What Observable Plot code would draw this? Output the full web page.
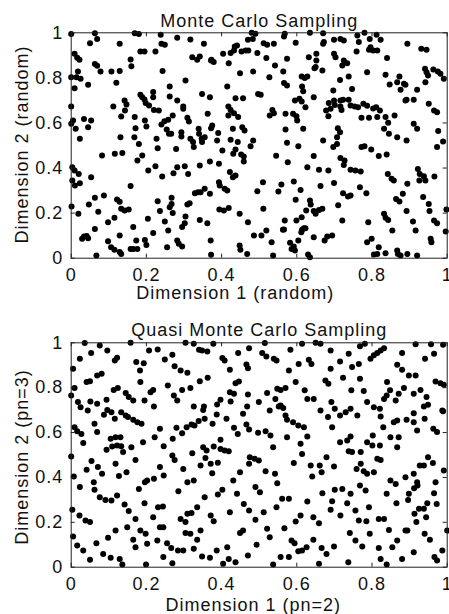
<!DOCTYPE html>
<html>
<head>
<meta charset="utf-8">
<script src="https://cdn.jsdelivr.net/npm/d3@7"></script>
<script src="https://cdn.jsdelivr.net/npm/@observablehq/plot@0.6"></script>
<style>
  html, body { margin: 0; padding: 0; background: #fff; }
  #chart svg { display: block; }
</style>
</head>
<body>
<div id="chart"></div>
<script>
// ---------- data ----------
const titles = ["Monte Carlo Sampling", "Quasi Monte Carlo Sampling"];
const xLabels = ["Dimension 1 (random)", "Dimension 1 (pn=2)"];
const yLabels = ["Dimension 2 (random)", "Dimension 2 (pn=3)"];
const tickValues = [0, 0.2, 0.4, 0.6, 0.8, 1];
const tickLabels = ["0", "0.2", "0.4", "0.6", "0.8", "1"];

const monteCarloPoints = [
[0.0,0.995],[0.063,0.998],[0.069,0.973],[0.050,0.954],[0.129,0.951],[0.169,0.998],[0.180,0.995],[0.224,0.917],[0.240,0.951],[0.249,0.947],
[0.238,0.991],[0.282,0.978],[0.317,0.970],[0.353,0.951],[0.322,0.892],[0.342,0.895],[0.373,0.880],[0.379,0.870],[0.404,0.907],[0.424,0.910],
[0.433,0.922],[0.441,0.944],[0.435,0.939],[0.453,0.917],[0.464,0.922],[0.471,0.922],[0.480,1.0],[0.490,0.996],[0.483,0.973],[0.470,0.969],
[0.495,0.910],[0.521,0.947],[0.539,0.951],[0.512,0.954],[0.519,0.888],[0.542,0.855],[0.568,0.996],[0.566,0.984],[0.597,0.956],[0.635,1.0],
[0.574,0.885],[0.670,0.998],[0.672,0.959],[0.670,0.951],[0.699,0.969],[0.716,0.973],[0.725,0.966],[0.699,0.907],[0.703,0.892],[0.725,0.877],
[0.734,0.865],[0.721,0.855],[0.761,0.988],[0.780,1.0],[0.794,0.973],[0.812,0.991],[0.823,0.969],[0.765,0.959],[0.759,0.917],[0.796,0.936],
[0.792,0.925],[0.803,0.922],[0.814,0.922],[0.840,0.888],[0.894,0.951],[0.931,0.929],[0.945,0.925],[0.652,0.907],[0.652,0.877],[0.650,0.848],
[0.668,0.833],[0.632,0.892],
[0.009,0.907],[0.016,0.889],[0.022,0.880],[0.018,0.828],[0.014,0.803],[0.025,0.796],[0.0,0.803],[0.009,0.754],[0.045,0.769],[0.063,0.862],
[0.069,0.854],[0.078,0.828],[0.107,0.828],[0.129,0.830],[0.120,0.778],[0.158,0.882],[0.160,0.852],[0.184,0.917],[0.195,0.917],[0.243,0.830],
[0.304,0.788],[0.282,0.700],[0.348,0.729],[0.372,0.877],[0.415,0.762],[0.419,0.865],[0.449,0.821],[0.484,0.828],[0.527,0.803],[0.564,0.828],
[0.566,0.777],[0.574,0.766],[0.613,0.806],[0.621,0.800],[0.628,0.806],[0.647,0.843],[0.697,0.744],[0.715,0.791],[0.747,0.751],[0.787,0.825],
[0.836,0.814],[0.847,0.771],[0.867,0.781],[0.876,0.747],[0.873,0.806],[0.885,0.774],[0.889,0.700],[0.920,0.747],[0.942,0.781],[0.941,0.840],
[0.945,0.825],[0.949,0.811],[0.963,0.837],[0.975,0.828],[0.982,0.818],[0.991,0.796],[0.889,0.769],[0.497,0.729],[0.504,0.725],[0.614,0.762],
[0.617,0.741],[0.738,0.806],[0.335,0.880],
[0.0,0.673],[0.034,0.618],[0.053,0.611],[0.045,0.581],[0.005,0.611],[0.0,0.596],[0.012,0.574],[0.023,0.530],[0.112,0.673],[0.133,0.629],
[0.142,0.700],[0.147,0.682],[0.143,0.655],[0.169,0.626],[0.171,0.577],[0.184,0.725],[0.189,0.714],[0.195,0.704],[0.198,0.688],[0.207,0.678],
[0.218,0.737],[0.218,0.714],[0.196,0.611],[0.200,0.584],[0.220,0.658],[0.233,0.655],[0.240,0.593],[0.248,0.608],[0.258,0.614],[0.262,0.762],
[0.262,0.717],[0.270,0.633],[0.266,0.552],[0.298,0.673],[0.298,0.663],[0.309,0.623],[0.313,0.607],[0.293,0.559],[0.369,0.714],[0.363,0.641],
[0.339,0.574],[0.375,0.589],[0.347,0.530],[0.391,0.555],[0.418,0.673],[0.424,0.658],[0.433,0.643],[0.437,0.710],[0.457,0.710],[0.444,0.626],
[0.430,0.574],[0.455,0.581],[0.461,0.567],[0.418,0.633],[0.484,0.522],[0.535,0.658],[0.539,0.643],[0.528,0.633],[0.570,0.641],[0.590,0.641],
[0.599,0.630],[0.601,0.611],[0.595,0.700],[0.607,0.707],[0.613,0.695],[0.623,0.670],[0.645,0.714],[0.617,0.574],[0.570,0.571],[0.699,0.700],
[0.701,0.680],[0.716,0.673],[0.678,0.655],[0.684,0.630],[0.690,0.663],[0.685,0.688],[0.719,0.658],[0.743,0.678],[0.754,0.673],[0.763,0.670],
[0.777,0.685],[0.787,0.676],[0.803,0.664],[0.811,0.670],[0.821,0.655],[0.716,0.700],[0.792,0.623],[0.814,0.626],[0.772,0.623],[0.836,0.626],
[0.843,0.601],[0.860,0.633],[0.832,0.574],[0.845,0.552],[0.911,0.596],[0.920,0.574],[0.951,0.685],[0.965,0.655],[0.973,0.648],[0.976,0.564],
[0.709,0.577],[0.715,0.559],[0.707,0.537],[0.723,0.703],[0.738,0.703],[0.911,0.703],[0.892,0.703],
[0.003,0.404],[0.009,0.389],[0.020,0.374],[0.003,0.345],[0.010,0.322],[0.023,0.333],[0.053,0.359],[0.082,0.456],[0.116,0.463],[0.136,0.467],
[0.131,0.537],[0.168,0.537],[0.180,0.507],[0.189,0.456],[0.176,0.433],[0.205,0.389],[0.224,0.408],[0.227,0.530],[0.230,0.488],[0.242,0.362],
[0.254,0.571],[0.260,0.552],[0.272,0.377],[0.282,0.404],[0.279,0.485],[0.293,0.540],[0.302,0.408],[0.311,0.374],[0.317,0.530],[0.324,0.515],
[0.326,0.493],[0.340,0.552],[0.348,0.515],[0.342,0.411],[0.355,0.537],[0.369,0.429],[0.372,0.577],[0.388,0.522],[0.393,0.419],[0.402,0.478],
[0.424,0.525],[0.431,0.463],[0.437,0.482],[0.443,0.515],[0.452,0.460],[0.459,0.451],[0.459,0.429],[0.477,0.497],[0.422,0.382],[0.430,0.359],
[0.437,0.367],[0.545,0.454],[0.574,0.512],[0.576,0.426],[0.604,0.497],[0.628,0.404],[0.645,0.453],[0.659,0.392],[0.670,0.522],[0.684,0.389],
[0.697,0.493],[0.707,0.507],[0.716,0.444],[0.727,0.433],[0.725,0.414],[0.743,0.392],[0.756,0.389],[0.770,0.385],[0.772,0.493],[0.780,0.497],
[0.798,0.482],[0.818,0.453],[0.839,0.460],[0.842,0.374],[0.852,0.352],[0.858,0.345],[0.867,0.537],[0.892,0.522],[0.922,0.396],[0.927,0.374],
[0.938,0.364],[0.942,0.345],[0.973,0.493],[0.989,0.518],[0.966,0.362],
[0.001,0.229],[0.019,0.197],[0.034,0.096],[0.041,0.098],[0.045,0.089],[0.047,0.238],[0.063,0.268],[0.063,0.129],[0.072,0.206],[0.087,0.278],
[0.098,0.160],[0.115,0.179],[0.122,0.260],[0.129,0.250],[0.133,0.219],[0.142,0.212],[0.153,0.216],[0.158,0.320],[0.165,0.138],[0.173,0.078],
[0.196,0.081],[0.200,0.059],[0.204,0.175],[0.218,0.112],[0.230,0.253],[0.236,0.209],[0.249,0.163],[0.258,0.123],[0.262,0.226],[0.267,0.241],
[0.270,0.200],[0.267,0.268],[0.286,0.064],[0.295,0.138],[0.302,0.155],[0.304,0.185],[0.309,0.238],[0.315,0.244],[0.329,0.288],[0.337,0.293],
[0.344,0.293],[0.342,0.170],[0.362,0.155],[0.355,0.308],[0.369,0.286],[0.393,0.337],[0.395,0.322],[0.408,0.308],[0.415,0.300],[0.394,0.216],
[0.406,0.212],[0.419,0.223],[0.448,0.197],[0.470,0.160],[0.495,0.297],[0.510,0.337],[0.511,0.219],[0.486,0.101],[0.506,0.101],[0.519,0.123],
[0.551,0.296],[0.559,0.327],[0.568,0.167],[0.566,0.127],[0.592,0.340],[0.610,0.303],[0.597,0.259],[0.599,0.167],[0.613,0.182],[0.625,0.212],
[0.635,0.256],[0.637,0.238],[0.645,0.209],[0.650,0.197],[0.659,0.214],[0.668,0.219],[0.623,0.133],[0.614,0.126],[0.663,0.320],[0.699,0.334],
[0.710,0.235],[0.723,0.288],[0.736,0.274],[0.721,0.167],[0.743,0.278],[0.768,0.315],[0.785,0.288],[0.790,0.160],[0.832,0.197],[0.836,0.179],
[0.843,0.170],[0.854,0.123],[0.864,0.263],[0.873,0.251],[0.882,0.286],[0.894,0.330],[0.892,0.209],[0.909,0.163],[0.916,0.123],[0.926,0.345],
[0.936,0.271],[0.951,0.241],[0.953,0.209],[0.965,0.167],[0.973,0.155],[0.998,0.216],
[0.029,0.086],[0.067,0.012],[0.098,0.075],[0.106,0.049],[0.115,0.037],[0.129,0.101],[0.129,0.027],[0.133,0.019],[0.158,0.041],[0.165,0.041],
[0.176,0.041],[0.255,0.049],[0.282,0.078],[0.295,0.052],[0.371,0.078],[0.372,0.015],[0.448,0.056],[0.450,0.037],[0.468,0.019],[0.533,0.071],
[0.537,0.012],[0.563,0.126],[0.582,0.068],[0.586,0.041],[0.592,0.052],[0.595,0.034],[0.604,0.078],[0.612,0.115],[0.619,0.133],[0.630,0.016],
[0.635,0.004],[0.645,0.093],[0.674,0.078],[0.681,0.096],[0.694,0.101],[0.787,0.071],[0.799,0.086],[0.805,0.016],[0.814,0.019],[0.818,0.049],
[0.836,0.022],[0.867,0.034],[0.869,0.019],[0.876,0.012],[0.894,0.019],[0.920,0.012],[0.956,0.086],[0.958,0.071],[0.996,0.118]
];

const quasiPoints = [
[0.036,0.999],[0.053,0.955],[0.076,0.988],[0.096,0.966],[0.023,0.929],[0.005,0.884],[0.122,0.933],[0.116,0.921],[0.158,1.0],[0.173,0.914],
[0.193,0.909],[0.183,0.877],[0.207,0.966],[0.230,0.970],[0.249,0.926],[0.269,0.947],[0.304,1.0],[0.326,0.996],[0.340,0.969],[0.348,0.966],
[0.275,0.896],[0.291,0.877],[0.309,0.866],[0.378,0.996],[0.362,0.961],[0.402,0.932],[0.408,0.921],[0.422,0.880],[0.444,0.955],[0.473,0.976],
[0.466,0.903],[0.470,0.887],[0.508,0.954],[0.519,0.939],[0.539,0.929],[0.546,0.921],[0.515,0.999],[0.583,0.969],[0.614,0.996],[0.605,0.906],
[0.632,0.924],[0.639,0.906],[0.650,1.0],[0.663,0.996],[0.690,0.966],[0.690,0.884],[0.715,0.917],[0.738,0.951],[0.747,0.892],[0.765,0.906],
[0.768,0.985],[0.781,0.996],[0.796,0.929],[0.805,0.944],[0.814,0.954],[0.823,0.966],[0.832,0.976],[0.880,0.955],[0.867,0.902],[0.880,0.880],
[0.916,0.993],[0.941,0.929],[0.957,0.993],[0.965,0.951],[0.989,0.991],[0.898,0.854],[0.916,0.854],[0.579,0.877],
[0.041,0.825],[0.050,0.829],[0.069,0.854],[0.081,0.862],[0.009,0.799],[0.0,0.765],[0.018,0.736],[0.025,0.713],[0.044,0.698],[0.051,0.738],
[0.069,0.728],[0.094,0.746],[0.113,0.790],[0.124,0.799],[0.145,0.776],[0.153,0.758],[0.165,0.743],[0.184,0.825],[0.211,0.780],[0.218,0.790],
[0.195,0.743],[0.220,0.716],[0.257,0.810],[0.273,0.765],[0.282,0.743],[0.295,0.790],[0.317,0.799],[0.342,0.829],[0.363,0.844],[0.326,0.716],
[0.353,0.716],[0.388,0.725],[0.397,0.746],[0.424,0.738],[0.433,0.773],[0.437,0.820],[0.446,0.828],[0.422,0.780],[0.470,0.770],[0.468,0.716],
[0.499,0.736],[0.521,0.776],[0.548,0.795],[0.543,0.750],[0.557,0.790],[0.570,0.799],[0.557,0.721],[0.564,0.710],[0.597,0.825],[0.621,0.788],
[0.628,0.750],[0.645,0.750],[0.676,0.832],[0.684,0.817],[0.692,0.736],[0.701,0.706],[0.723,0.844],[0.745,0.788],[0.768,0.840],[0.778,0.785],
[0.805,0.713],[0.821,0.706],[0.787,0.736],[0.832,0.750],[0.839,0.765],[0.848,0.788],[0.863,0.743],[0.885,0.799],[0.911,0.773],[0.929,0.790],
[0.945,0.758],[0.949,0.724],[0.969,0.828],[0.982,0.820],[0.991,0.813],[0.987,0.698],[0.840,0.825],[0.871,0.773],[0.938,0.716],
[0.009,0.624],[0.016,0.606],[0.027,0.594],[0.032,0.553],[0.062,0.639],[0.069,0.602],[0.087,0.679],[0.096,0.701],[0.107,0.691],[0.116,0.661],
[0.133,0.691],[0.145,0.676],[0.151,0.669],[0.165,0.657],[0.176,0.646],[0.187,0.639],[0.105,0.572],[0.118,0.579],[0.131,0.579],[0.133,0.539],
[0.160,0.535],[0.191,0.557],[0.222,0.579],[0.236,0.617],[0.246,0.539],[0.270,0.572],[0.280,0.621],[0.295,0.597],[0.307,0.624],[0.320,0.636],
[0.328,0.632],[0.339,0.651],[0.355,0.661],[0.351,0.701],[0.376,0.639],[0.387,0.681],[0.397,0.568],[0.413,0.661],[0.433,0.621],[0.443,0.594],
[0.457,0.684],[0.466,0.636],[0.473,0.614],[0.497,0.599],[0.517,0.606],[0.530,0.587],[0.528,0.698],[0.552,0.716],[0.570,0.676],[0.574,0.657],
[0.574,0.579],[0.590,0.646],[0.604,0.632],[0.619,0.624],[0.628,0.582],[0.610,0.550],[0.663,0.698],[0.683,0.669],[0.694,0.624],[0.715,0.676],
[0.730,0.691],[0.743,0.706],[0.761,0.676],[0.823,0.672],[0.734,0.565],[0.743,0.582],[0.715,0.557],[0.770,0.513],[0.787,0.557],[0.802,0.587],
[0.830,0.624],[0.858,0.646],[0.867,0.654],[0.892,0.657],[0.911,0.686],[0.911,0.646],[0.920,0.609],[0.940,0.661],[0.963,0.617],[0.973,0.602],
[0.989,0.695],[0.849,0.579],[0.871,0.579],[0.801,0.542],[0.867,0.535],
[0.0,0.493],[0.007,0.404],[0.023,0.357],[0.041,0.434],[0.054,0.473],[0.060,0.379],[0.071,0.446],[0.082,0.416],[0.094,0.523],[0.109,0.538],
[0.122,0.542],[0.138,0.513],[0.118,0.461],[0.127,0.406],[0.147,0.423],[0.171,0.478],[0.180,0.349],[0.196,0.379],[0.202,0.386],[0.220,0.394],
[0.236,0.446],[0.246,0.409],[0.269,0.498],[0.275,0.478],[0.298,0.438],[0.322,0.508],[0.309,0.379],[0.326,0.386],[0.344,0.453],[0.351,0.535],
[0.360,0.520],[0.371,0.461],[0.375,0.419],[0.390,0.465],[0.397,0.527],[0.408,0.520],[0.419,0.517],[0.357,0.487],[0.379,0.538],[0.431,0.386],
[0.449,0.423],[0.473,0.461],[0.475,0.490],[0.488,0.483],[0.499,0.475],[0.490,0.357],[0.502,0.334],[0.517,0.428],[0.537,0.535],[0.542,0.416],
[0.548,0.374],[0.592,0.464],[0.614,0.505],[0.637,0.453],[0.641,0.404],[0.661,0.453],[0.666,0.423],[0.679,0.490],[0.699,0.449],[0.701,0.345],
[0.721,0.349],[0.738,0.517],[0.747,0.513],[0.759,0.438],[0.770,0.461],[0.778,0.428],[0.787,0.416],[0.805,0.423],[0.768,0.364],[0.783,0.342],
[0.814,0.483],[0.823,0.478],[0.849,0.386],[0.863,0.371],[0.889,0.401],[0.911,0.416],[0.920,0.379],[0.927,0.453],[0.938,0.453],[0.949,0.490],
[0.962,0.464],[0.969,0.379],[0.991,0.431],[0.821,0.542],
[0.003,0.256],[0.022,0.230],[0.038,0.208],[0.050,0.201],[0.062,0.345],[0.076,0.312],[0.091,0.300],[0.107,0.297],[0.122,0.319],[0.142,0.279],
[0.153,0.250],[0.149,0.178],[0.171,0.215],[0.195,0.285],[0.218,0.223],[0.231,0.267],[0.244,0.270],[0.236,0.178],[0.245,0.178],[0.285,0.339],
[0.309,0.238],[0.320,0.241],[0.304,0.201],[0.317,0.149],[0.291,0.215],[0.335,0.267],[0.355,0.312],[0.371,0.230],[0.379,0.205],[0.390,0.324],
[0.402,0.345],[0.422,0.245],[0.441,0.327],[0.459,0.282],[0.473,0.253],[0.490,0.211],[0.512,0.245],[0.521,0.171],[0.546,0.267],[0.561,0.305],
[0.579,0.305],[0.597,0.204],[0.610,0.230],[0.628,0.293],[0.644,0.223],[0.659,0.196],[0.668,0.330],[0.690,0.256],[0.694,0.294],[0.716,0.230],
[0.734,0.285],[0.756,0.253],[0.765,0.208],[0.785,0.205],[0.792,0.267],[0.818,0.215],[0.832,0.215],[0.845,0.166],[0.865,0.285],[0.889,0.163],
[0.896,0.300],[0.913,0.238],[0.918,0.201],[0.925,0.260],[0.938,0.260],[0.947,0.285],[0.965,0.330],[0.972,0.282],[0.912,0.352],[0.921,0.364],
[0.898,0.327],[0.944,0.223],[0.743,0.327],[0.839,0.327],
[0.005,0.137],[0.016,0.097],[0.032,0.074],[0.050,0.033],[0.067,0.107],[0.085,0.059],[0.098,0.131],[0.105,0.042],[0.118,0.163],[0.129,0.037],
[0.136,0.012],[0.165,0.122],[0.171,0.089],[0.184,0.163],[0.198,0.149],[0.199,0.012],[0.202,0.104],[0.229,0.119],[0.245,0.045],[0.255,0.107],
[0.266,0.086],[0.269,0.018],[0.284,0.074],[0.298,0.074],[0.304,0.152],[0.326,0.082],[0.335,0.122],[0.344,0.163],[0.348,0.048],[0.369,0.042],
[0.387,0.074],[0.404,0.015],[0.415,0.089],[0.419,0.037],[0.437,0.022],[0.449,0.152],[0.457,0.163],[0.470,0.052],[0.493,0.100],[0.528,0.134],
[0.537,0.012],[0.557,0.045],[0.567,0.174],[0.579,0.045],[0.586,0.119],[0.594,0.107],[0.604,0.071],[0.614,0.074],[0.626,0.089],[0.644,0.122],
[0.659,0.015],[0.666,0.086],[0.679,0.059],[0.699,0.092],[0.737,0.022],[0.741,0.152],[0.756,0.119],[0.774,0.092],[0.794,0.149],[0.818,0.086],
[0.823,0.037],[0.839,0.012],[0.854,0.089],[0.867,0.119],[0.880,0.037],[0.894,0.163],[0.911,0.067],[0.940,0.149],[0.954,0.122],[0.966,0.045],
[0.973,0.030],[0.987,0.074],[1.0,0.163]
];

// ---------- drawing ----------
const FONT = "'Liberation Sans', Arial, Helvetica, sans-serif";
const fmtTick = d => tickLabels[tickValues.indexOf(d)];

function panel(points, title, xLabel, yLabel, o) {
  const innerH = o.height - o.marginTop - o.marginBottom;
  const innerW = 449 - 70.7 - 2.3;
  const tickLen = 4;
  return Plot.plot({
    width: 449,
    height: o.height,
    marginLeft: 70.7,
    marginRight: 2.3,
    marginTop: o.marginTop,
    marginBottom: o.marginBottom,
    style: {fontFamily: FONT, fontSize: "18px", letterSpacing: "1px", color: "#111", background: "transparent", overflow: "visible"},
    x: {domain: [0, 1]},
    y: {domain: [0, 1]},
    marks: [
      Plot.dot(points, {x: d => d[0], y: d => d[1], r: 3, fill: "#000", stroke: "none"}),
      // inward ticks on all four sides
      Plot.tickX(tickValues, {x: d => d, insetTop: innerH - tickLen, stroke: "#222"}),
      Plot.tickX(tickValues, {x: d => d, insetBottom: innerH - tickLen, stroke: "#222"}),
      Plot.tickY(tickValues, {y: d => d, insetRight: innerW - tickLen, stroke: "#222"}),
      Plot.tickY(tickValues, {y: d => d, insetLeft: innerW - tickLen, stroke: "#222"}),
      Plot.frame({stroke: "#222", strokeWidth: 1}),
      Plot.axisX(tickValues, {anchor: "bottom", tickSize: 0, tickPadding: o.xPad, tickFormat: fmtTick, label: null, fill: "#111"}),
      Plot.axisY(tickValues, {anchor: "left", tickSize: 0, tickPadding: 8, tickFormat: fmtTick, label: null, fill: "#111"}),
      Plot.text([title], {frameAnchor: "top", dy: o.titleDy, lineAnchor: "bottom", textAnchor: "middle", fill: "#111"}),
      Plot.text([xLabel], {frameAnchor: "bottom", dx: o.xLabelDx, dy: o.xLabelDy, lineAnchor: "bottom", textAnchor: "middle", fill: "#111"}),
      Plot.text([yLabel], {frameAnchor: "left", dx: -49, dy: o.yLabelDy, rotate: -90, lineAnchor: "middle", textAnchor: "middle", fill: "#111"})
    ]
  });
}

const chart = document.getElementById("chart");
chart.append(panel(monteCarloPoints, titles[0], xLabels[0], yLabels[0],
  {height: 300, marginTop: 32.3, marginBottom: 42.3, xPad: 10.5, titleDy: -6, xLabelDx: -24, xLabelDy: 40.5, yLabelDy: -1}));
chart.append(panel(quasiPoints, titles[1], xLabels[1], yLabels[1],
  {height: 314, marginTop: 42.3, marginBottom: 47.3, xPad: 10, titleDy: -7, xLabelDx: -6, xLabelDy: 43.5, yLabelDy: 2}));
</script>
</body>
</html>
